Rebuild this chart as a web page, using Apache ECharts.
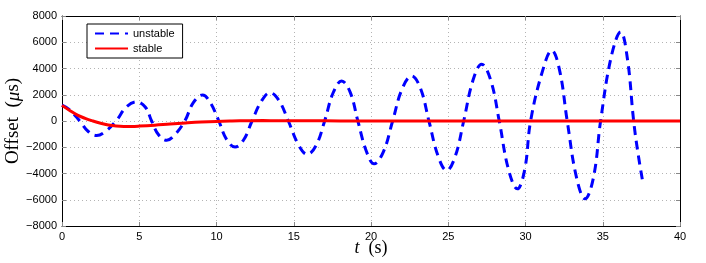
<!DOCTYPE html>
<html><head><meta charset="utf-8">
<script src="https://cdn.jsdelivr.net/npm/echarts@6/dist/echarts.min.js"></script>
<style>html,body{margin:0;padding:0;background:#fff}#c{width:706px;height:263px}</style>
</head><body><div id="c"></div>
<script>
// unstable series: [t (s), offset (µs)]
const unstableT = [0,0.5,1.15,1.7,2.25,2.8,3.5,4.15,4.83,5.4,5.8,6.25,6.78,7.3,7.95,8.5,9.1,9.6,10.15,10.65,11.2,11.75,12.3,12.9,13.46,14.05,14.65,15.3,15.88,16.45,17.0,17.55,18.1,18.65,19.15,19.7,20.2,20.8,21.4,22.0,22.63,23.2,23.75,24.35,24.9,25.45,26.0,26.6,27.16,27.75,28.3,28.9,29.47,29.95,30.33,31.1,31.7,32.2,32.7,33.3,33.85,34.4,34.86,35.55,36.16,36.6,37.0,37.3,37.63];
const unstableV = [1210,850,0,-800,-1100,-800,0,1050,1460,1050,0,-1050,-1470,-1050,0,1400,1980,1400,0,-1400,-1980,-1450,0,1500,2150,1550,0,-1800,-2540,-1850,0,2150,3050,2200,0,-2300,-3260,-2350,0,2400,3430,2500,0,-2700,-3770,-2700,0,3100,4330,3100,0,-3700,-5170,-3700,0,3800,5370,3900,0,-4300,-5930,-4300,0,4900,6780,4700,0,-2600,-4920];
// stable series
const stableT = [0,0.5,1,1.5,2,2.5,3,3.5,4,4.5,5,6,7,8,9,10,11,12,13,14,16,18,20,25,30,35,40];
const stableV = [1190,800,450,200,0,-170,-300,-380,-410,-410,-390,-320,-230,-150,-80,-30,0,20,30,25,15,5,0,0,0,0,0];
const seriesNames = ['unstable','stable'];
const xTicks = {min:0,max:40,interval:5};
const yTicks = {min:-8000,max:8000,interval:2000};

const pair = (t,v)=>t.map((x,i)=>[x,v[i]]);
const chart = echarts.init(document.getElementById('c'),null,{renderer:'canvas'});
const tickFont = {color:'#000',fontFamily:'Liberation Sans, Arial, sans-serif',fontSize:11};
const split = {show:true,lineStyle:{color:'#b4b4b4',type:[1,3],width:1}};
const serif = 'Liberation Serif, DejaVu Serif, serif';
const nameRich = (fs)=>({
  n:{fontFamily:serif,fontSize:fs,color:'#000'},
  i:{fontFamily:serif,fontStyle:'italic',fontSize:fs,color:'#000'}
});
chart.setOption({
  animation:false,
  grid:{left:62,right:26,top:16,bottom:37,containLabel:false,outerBoundsMode:'none'},
  legend:{
    data:seriesNames, orient:'vertical', left:87, top:24,
    backgroundColor:'#fff', borderColor:'#000', borderWidth:1,
    padding:[4,8,4,7], itemGap:4, itemWidth:33, itemHeight:10,
    itemStyle:{opacity:0},
    textStyle:{color:'#000',fontFamily:'Liberation Sans, Arial, sans-serif',fontSize:11}
  },
  xAxis:[{
    type:'value', min:xTicks.min, max:xTicks.max, interval:xTicks.interval,
    axisLine:{show:true,onZero:false,lineStyle:{color:'#000',width:1}},
    axisTick:{show:true,inside:true,length:4,lineStyle:{color:'#888'}},
    axisLabel:Object.assign({margin:5},tickFont),
    splitLine:split,
    name:'{i|t}{n|  (s)}', nameLocation:'middle', nameGap:13, nameMoveOverlap:false,
    nameTextStyle:{fontFamily:serif,fontSize:18,color:'#000',rich:nameRich(18)}
  },{
    type:'value', position:'top', min:xTicks.min, max:xTicks.max, interval:xTicks.interval,
    axisLine:{show:true,onZero:false,lineStyle:{color:'#000',width:1}},
    axisTick:{show:true,inside:true,length:4,lineStyle:{color:'#888'}},
    axisLabel:{show:false}, splitLine:{show:false}
  }],
  yAxis:[{
    type:'value', min:yTicks.min, max:yTicks.max, interval:yTicks.interval,
    axisLine:{show:true,onZero:false,lineStyle:{color:'#000',width:1}},
    axisTick:{show:true,inside:true,length:4,lineStyle:{color:'#888'}},
    axisLabel:Object.assign({margin:5,formatter:v=>String(v).replace('-','\u2212')},tickFont),
    splitLine:split,
    name:'{n|Offset  (}{i|\u03bc}{n|s)}', nameLocation:'middle', nameGap:39, nameRotate:90, nameMoveOverlap:false,
    nameTextStyle:{fontFamily:serif,fontSize:19,color:'#000',rich:nameRich(19)}
  },{
    type:'value', position:'right', min:yTicks.min, max:yTicks.max, interval:yTicks.interval,
    axisLine:{show:true,onZero:false,lineStyle:{color:'#000',width:1}},
    axisTick:{show:true,inside:true,length:4,lineStyle:{color:'#888'}},
    axisLabel:{show:false}, splitLine:{show:false}
  }],
  series:[{
    name:seriesNames[0], type:'line', data:pair(unstableT,unstableV), smooth:0.4,
    showSymbol:false, symbol:'none', color:'#0000ff',
    lineStyle:{color:'#0000ff',width:3,type:[9,6]}, z:2
  },{
    name:seriesNames[1], type:'line', data:pair(stableT,stableV), smooth:0.4,
    showSymbol:false, symbol:'none', color:'#ff0000',
    lineStyle:{color:'#ff0000',width:3}, z:3
  }]
});
</script></body></html>
